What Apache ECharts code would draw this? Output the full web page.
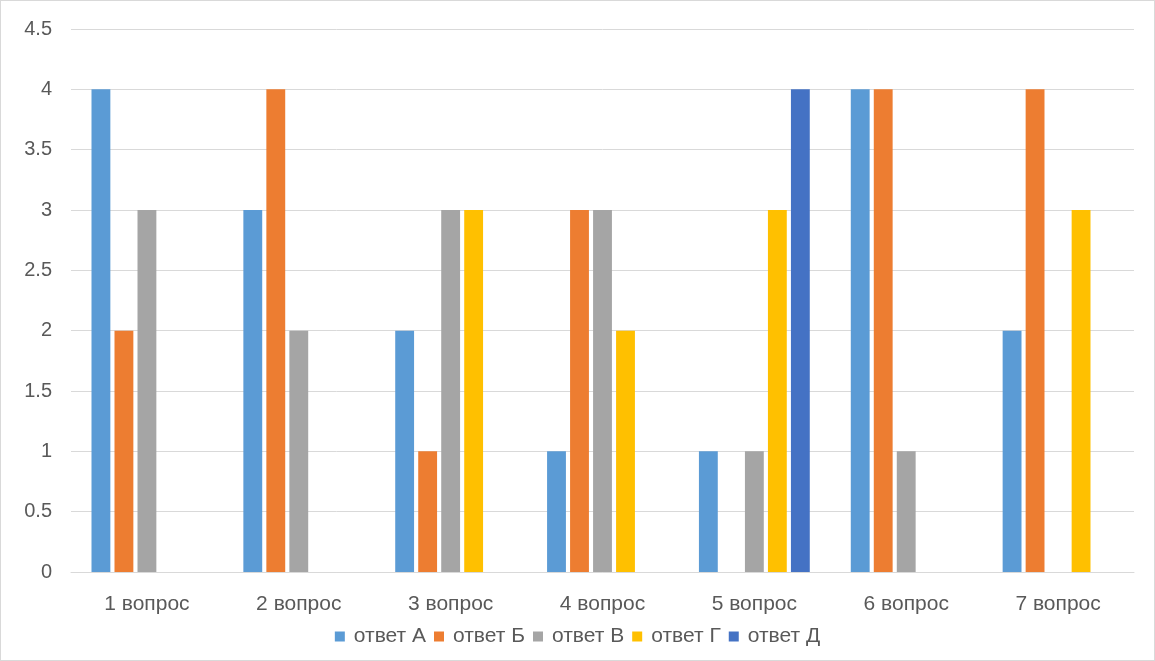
<!DOCTYPE html>
<html>
<head>
<meta charset="utf-8">
<script src="https://cdn.jsdelivr.net/npm/echarts@6/dist/echarts.min.js"></script>
<style>
  html, body { margin: 0; padding: 0; background: #fff; }
  #chart { position: absolute; left: 0; top: 0; width: 1153px; height: 659px; border: 1px solid #d9d9d9; }
</style>
</head>
<body>
<div id="chart"></div>
<script>
var categories = ['1 вопрос', '2 вопрос', '3 вопрос', '4 вопрос', '5 вопрос', '6 вопрос', '7 вопрос'];
var seriesNames = ['ответ А', 'ответ Б', 'ответ В', 'ответ Г', 'ответ Д'];
var answerA = [4, 3, 2, 1, 1, 4, 2];
var answerB = [2, 4, 1, 3, 0, 4, 4];
var answerV = [3, 2, 3, 3, 1, 1, 0];
var answerG = [0, 0, 3, 2, 3, 0, 3];
var answerD = [0, 0, 0, 0, 4, 0, 0];
var colors = ['#5B9BD5', '#ED7D31', '#A5A5A5', '#FFC000', '#4472C4'];

var allData = [answerA, answerB, answerV, answerG, answerD];

var myChart = echarts.init(document.getElementById('chart'));

var series = allData.map(function (d, i) {
    return {
        name: seriesNames[i],
        type: 'bar',
        data: d,
        barGap: '22%',
        barCategoryGap: '27%',
        itemStyle: { color: colors[i] }
    };
});

myChart.setOption({
    animation: false,
    color: colors,
    textStyle: { fontFamily: 'Liberation Sans' },
    grid: { left: 70, right: 20, top: 28, bottom: 88, containLabel: false },
    legend: {
        bottom: 8,
        left: 'center',
        itemWidth: 10,
        itemHeight: 10,
        itemGap: 8,
        icon: 'rect',
        textStyle: { color: '#595959', fontSize: 21, fontFamily: 'Liberation Sans', padding: [0, 0, 0, 4] },
        data: seriesNames
    },
    xAxis: {
        type: 'category',
        data: categories,
        axisLine: { lineStyle: { color: '#d9d9d9', width: 1 } },
        axisTick: { show: false },
        axisLabel: { color: '#595959', fontSize: 21, margin: 22 }
    },
    yAxis: {
        type: 'value',
        min: 0,
        max: 4.5,
        interval: 0.5,
        axisLine: { show: false },
        axisTick: { show: false },
        splitLine: { lineStyle: { color: '#d9d9d9', width: 1 } },
        axisLabel: { color: '#595959', fontSize: 20, margin: 19 }
    },
    series: series
});
</script>
</body>
</html>
